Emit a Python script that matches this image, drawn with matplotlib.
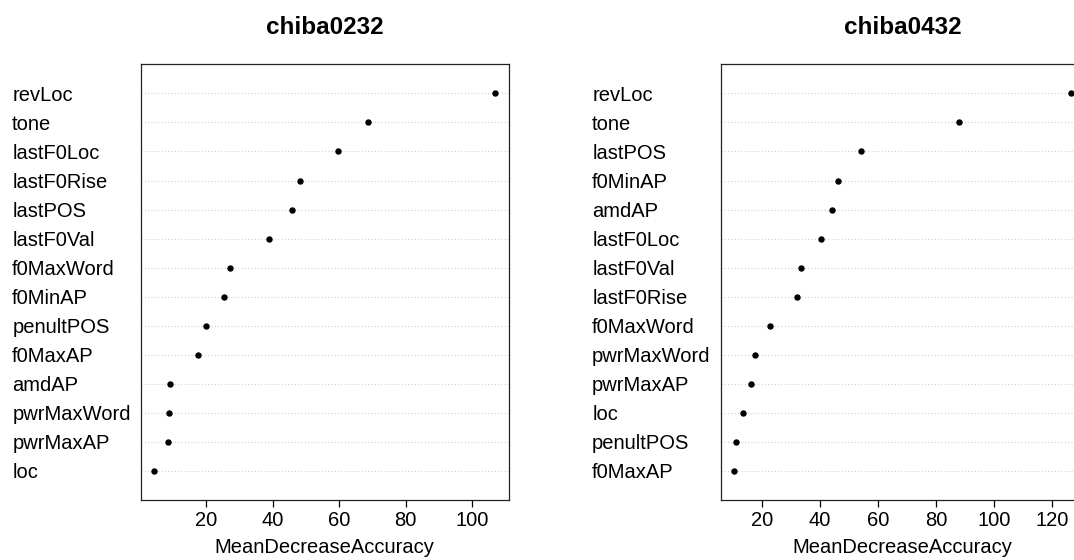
import matplotlib.pyplot as plt
from matplotlib.ticker import MultipleLocator

plt.rcParams['font.family'] = ['Liberation Sans', 'DejaVu Sans']

# Variable importance, listed top to bottom
vars_0232 = ['revLoc', 'tone', 'lastF0Loc', 'lastF0Rise', 'lastPOS', 'lastF0Val',
             'f0MaxWord', 'f0MinAP', 'penultPOS', 'f0MaxAP', 'amdAP',
             'pwrMaxWord', 'pwrMaxAP', 'loc']
mda_0232 = [106.9, 68.7, 59.7, 48.1, 45.9, 38.8, 27.3, 25.5, 20.0, 17.5,
            9.0, 8.7, 8.6, 4.4]

vars_0432 = ['revLoc', 'tone', 'lastPOS', 'f0MinAP', 'amdAP', 'lastF0Loc',
             'lastF0Val', 'lastF0Rise', 'f0MaxWord', 'pwrMaxWord', 'pwrMaxAP',
             'loc', 'penultPOS', 'f0MaxAP']
mda_0432 = [126.8, 87.9, 54.1, 46.1, 44.2, 40.4, 33.3, 32.1, 22.6, 17.6,
            16.1, 13.5, 11.0, 10.3]

fig = plt.figure(figsize=(10.74, 5.6), dpi=100)
ax1 = fig.add_axes([0.1310, 0.1071, 0.3426, 0.778])
ax2 = fig.add_axes([0.6710, 0.1071, 0.3392, 0.778])


def dotchart(ax, names, values, title):
    n = len(names)
    rows = list(range(n, 0, -1))
    for r in rows:
        ax.axhline(r, color='#cfcfcf', ls=(0, (1, 2)), lw=0.8, zorder=1)
    ax.plot(values, rows, 'o', color='black', ms=3.6, zorder=3, clip_on=True)
    lo, hi = min(values), max(values)
    ext = 0.04 * (hi - lo)
    ax.set_xlim(lo - ext, hi + ext)
    ax.set_ylim(0, n + 1)
    ax.set_yticks(rows)
    ax.set_yticklabels(names, fontsize=14.5)
    for lab in ax.get_yticklabels():
        lab.set_horizontalalignment('left')
    ax.tick_params(axis='y', length=0, pad=92.5)
    ax.xaxis.set_major_locator(MultipleLocator(20))
    ax.tick_params(axis='x', length=5, width=0.9, labelsize=14.5, pad=3)
    ax.set_xlabel('MeanDecreaseAccuracy', fontsize=14.5, labelpad=6)
    ax.set_title(title, fontsize=17.5, fontweight='bold', pad=22)
    for s in ax.spines.values():
        s.set_linewidth(0.9)
        s.set_color('#222222')


dotchart(ax1, vars_0232, mda_0232, 'chiba0232')
dotchart(ax2, vars_0432, mda_0432, 'chiba0432')

fig.savefig('out.png', dpi=100)
